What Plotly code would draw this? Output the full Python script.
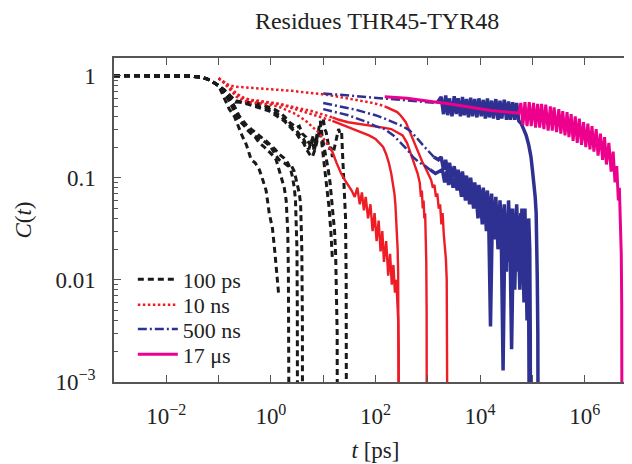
import plotly.graph_objects as go

# ---------------- data (t in ps, C(t)) ----------------
t_100ps_head = [0.001, 0.002, 0.004, 0.008, 0.015, 0.03, 0.05, 0.07, 0.1]
C_100ps_head = [1.0, 1.0, 1.0, 1.0, 1.0, 0.99, 0.96, 0.9, 0.8]

t_100ps_a = t_100ps_head + [0.13, 0.16, 0.2, 0.23, 0.28, 0.34, 0.42, 0.5, 0.6, 0.7, 0.81, 0.93, 1.07, 1.2, 1.3, 1.4]
C_100ps_a = C_100ps_head + [0.6, 0.47, 0.4, 0.33, 0.26, 0.21, 0.15, 0.14, 0.12, 0.095, 0.075, 0.045, 0.032, 0.018, 0.011, 0.0074]

t_100ps_b = t_100ps_head + [0.13, 0.16, 0.2, 0.25, 0.32, 0.39, 0.5, 0.6, 0.75, 0.93, 1.1, 1.26, 1.44, 1.64, 1.8, 1.96, 2.05, 2.1, 2.16, 2.2, 2.25, 2.27]
C_100ps_b = C_100ps_head + [0.68, 0.56, 0.45, 0.36, 0.32, 0.29, 0.25, 0.22, 0.2, 0.18, 0.165, 0.15, 0.12, 0.098, 0.08, 0.06, 0.041, 0.03, 0.012, 0.004, 0.0011, 1e-5]

t_100ps_c = t_100ps_head + [0.13, 0.16, 0.2, 0.25, 0.34, 0.42, 0.53, 0.65, 0.81, 1.0, 1.2, 1.44, 1.8, 2.25, 2.5, 2.8, 3.0, 3.2, 3.35, 3.5, 3.7, 3.8, 3.9, 4.0, 4.05]
C_100ps_c = C_100ps_head + [0.7, 0.6, 0.5, 0.38, 0.3, 0.27, 0.25, 0.235, 0.22, 0.2, 0.17, 0.15, 0.14, 0.127, 0.13, 0.115, 0.1, 0.088, 0.08, 0.07, 0.055, 0.04, 0.02, 0.004, 1e-5]

t_100ps_d = t_100ps_head + [0.13, 0.16, 0.2, 0.25, 0.34, 0.42, 0.53, 0.65, 0.81, 1.0, 1.2, 1.44, 1.8, 2.1, 2.4, 2.6, 2.8, 2.95, 3.05, 3.15, 3.2, 3.25]
C_100ps_d = C_100ps_head + [0.7, 0.6, 0.5, 0.4, 0.33, 0.3, 0.27, 0.25, 0.23, 0.21, 0.19, 0.17, 0.155, 0.14, 0.12, 0.1, 0.08, 0.06, 0.04, 0.02, 0.005, 1e-5]

t_100ps_e = t_100ps_head + [0.13, 0.17, 0.21, 0.27, 0.34, 0.45, 0.6, 0.75, 0.93, 1.15, 1.44, 1.8, 2.25, 2.7, 3.1, 3.5, 4.0, 4.7, 5.3, 5.9, 6.3, 6.7, 7.2, 7.7, 8.4, 9.1, 10, 10.7, 11.4, 12.2, 13, 14, 15, 16.5, 18, 19, 19.7, 21, 22.5, 23.6, 24.7, 25.8, 26.7, 27.5, 28]
C_100ps_e = C_100ps_head + [0.7, 0.6, 0.55, 0.56, 0.55, 0.54, 0.53, 0.51, 0.49, 0.47, 0.44, 0.4, 0.35, 0.33, 0.31, 0.32, 0.27, 0.25, 0.22, 0.2, 0.24, 0.18, 0.22, 0.28, 0.26, 0.35, 0.38, 0.3, 0.28, 0.22, 0.19, 0.2, 0.16, 0.2, 0.25, 0.29, 0.3, 0.27, 0.28, 0.16, 0.1, 0.08, 0.041, 0.01, 1e-5]

t_100ps_f = t_100ps_head + [0.13, 0.17, 0.21, 0.27, 0.34, 0.45, 0.6, 0.75, 0.93, 1.15, 1.44, 1.8, 2.25, 2.7, 3.1, 3.6, 4.2, 4.7, 5.3, 5.9, 6.5, 7.2, 8.0, 8.8, 9.6, 10.5, 11.5, 12.5, 13.5, 14.5, 15.5, 16.5, 17.3, 18, 18.5, 18.8]
C_100ps_f = C_100ps_head + [0.72, 0.62, 0.56, 0.55, 0.54, 0.52, 0.5, 0.49, 0.47, 0.44, 0.41, 0.37, 0.33, 0.3, 0.29, 0.26, 0.24, 0.21, 0.19, 0.22, 0.26, 0.21, 0.29, 0.36, 0.25, 0.2, 0.15, 0.12, 0.09, 0.06, 0.045, 0.03, 0.018, 0.008, 0.003, 1e-5]

t_100ps_g = t_100ps_head + [0.13, 0.17, 0.21, 0.27, 0.34, 0.45, 0.6, 0.75, 0.93, 1.15, 1.44, 1.8, 2.25, 2.7, 3.1, 3.6, 4.2, 4.8, 5.5, 6.2, 7.0, 7.8, 8.6, 9.4, 10.2, 11, 12, 13, 14, 15]
C_100ps_g = C_100ps_head + [0.72, 0.63, 0.57, 0.55, 0.53, 0.51, 0.49, 0.47, 0.45, 0.42, 0.39, 0.36, 0.32, 0.29, 0.27, 0.24, 0.22, 0.19, 0.17, 0.16, 0.19, 0.24, 0.3, 0.22, 0.15, 0.11, 0.08, 0.05, 0.03, 0.016]

t_10ns_a = [0.1, 0.12, 0.15, 0.2, 0.3, 0.45, 0.7, 1, 1.5, 2.5, 4, 6, 9, 14, 20, 30, 45, 65, 90, 120, 150, 180, 220, 260, 300, 340, 380, 420, 470, 520, 570, 620, 680, 740, 800, 870, 940, 1000, 1080, 1160, 1250, 1340, 1430, 1520, 1620, 1720, 1820, 1920, 2020, 2120, 2220, 2300, 2360, 2400, 2430]
C_10ns_a = [0.95, 0.88, 0.82, 0.78, 0.77, 0.76, 0.75, 0.74, 0.72, 0.71, 0.69, 0.68, 0.66, 0.64, 0.62, 0.6, 0.58, 0.56, 0.54, 0.52, 0.5, 0.48, 0.46, 0.44, 0.41, 0.38, 0.35, 0.31, 0.27, 0.24, 0.21, 0.19, 0.17, 0.15, 0.14, 0.13, 0.12, 0.11, 0.1, 0.095, 0.08, 0.085, 0.065, 0.07, 0.05, 0.055, 0.035, 0.045, 0.028, 0.022, 0.016, 0.01, 0.005, 0.0015, 1e-5]

t_10ns_b = [0.1, 0.13, 0.17, 0.22, 0.3, 0.4, 0.55, 0.75, 1, 1.5, 2, 3, 4, 6, 8, 11, 15, 20, 30, 45, 65, 100, 140, 200, 260, 330, 400, 460, 520, 580, 640, 700, 740, 770, 800, 830, 860, 890, 915, 935, 950, 958, 962]
C_10ns_b = [0.94, 0.86, 0.76, 0.67, 0.61, 0.58, 0.57, 0.56, 0.55, 0.53, 0.51, 0.49, 0.47, 0.45, 0.43, 0.41, 0.39, 0.37, 0.35, 0.34, 0.33, 0.32, 0.31, 0.3, 0.28, 0.26, 0.22, 0.18, 0.15, 0.13, 0.11, 0.09, 0.065, 0.075, 0.05, 0.06, 0.04, 0.045, 0.03, 0.015, 0.005, 0.0015, 1e-5]

t_10ns_c = [0.1, 0.13, 0.17, 0.22, 0.3, 0.4, 0.55, 0.75, 1, 1.5, 2, 3, 4, 5, 6, 7.5, 9, 11, 13, 15, 18, 22, 26, 30, 35, 40, 45, 50, 55, 60, 65, 72, 80, 88, 96, 105, 115, 125, 135, 145, 160, 175, 190, 205, 220, 235, 250, 262, 272, 278, 282]
C_10ns_c = [0.94, 0.84, 0.72, 0.62, 0.57, 0.55, 0.54, 0.53, 0.52, 0.49, 0.46, 0.42, 0.38, 0.35, 0.32, 0.29, 0.26, 0.23, 0.2, 0.18, 0.14, 0.11, 0.095, 0.085, 0.075, 0.065, 0.08, 0.055, 0.072, 0.048, 0.065, 0.04, 0.055, 0.03, 0.045, 0.024, 0.038, 0.019, 0.03, 0.015, 0.024, 0.011, 0.018, 0.009, 0.014, 0.0075, 0.01, 0.006, 0.004, 0.002, 1e-5]

t_10ns_d = [0.1, 0.13, 0.17, 0.22, 0.3, 0.4, 0.55, 0.75, 1, 1.5, 2, 3, 4, 6, 8, 11, 15, 20, 28, 40, 55, 75, 100, 120, 140, 160, 180, 200, 215, 230, 240, 250, 258, 265, 271, 276, 280, 283]
C_10ns_d = [0.94, 0.85, 0.74, 0.65, 0.6, 0.57, 0.56, 0.55, 0.54, 0.52, 0.5, 0.47, 0.45, 0.42, 0.4, 0.38, 0.36, 0.34, 0.32, 0.3, 0.28, 0.26, 0.24, 0.22, 0.2, 0.17, 0.14, 0.11, 0.09, 0.07, 0.055, 0.04, 0.03, 0.02, 0.012, 0.006, 0.002, 1e-5]

t_500ns_a = [10, 14, 20, 30, 45, 70, 100, 150, 220, 330, 500, 750, 1100, 1500,
             1.8e3, 2.0e3, 2.2e3, 2.4e3, 2.6e3, 2.9e3, 3.2e3, 3.5e3, 3.8e3, 4.2e3, 4.6e3, 5.0e3, 5.5e3, 6.0e3, 6.6e3, 7.2e3, 7.9e3, 8.7e3, 9.5e3,
             1.05e4, 1.15e4, 1.26e4, 1.38e4, 1.5e4, 1.66e4, 1.8e4, 2.0e4, 2.2e4, 2.4e4, 2.6e4, 2.9e4, 3.2e4, 3.5e4, 3.8e4, 4.2e4, 4.6e4, 5.0e4, 5.5e4,
             6.1e4, 6.8e4, 7.6e4, 8.5e4, 9.4e4, 1.0e5, 1.07e5, 1.13e5, 1.18e5, 1.21e5, 1.24e5, 1.27e5, 1.29e5, 1.31e5]
C_500ns_a = [0.67, 0.66, 0.65, 0.64, 0.63, 0.62, 0.61, 0.6, 0.59, 0.58, 0.57, 0.56, 0.55, 0.54,
             0.62, 0.42, 0.64, 0.41, 0.6, 0.4, 0.63, 0.42, 0.6, 0.4, 0.62, 0.41, 0.59, 0.39, 0.61, 0.4, 0.59, 0.39, 0.6,
             0.4, 0.58, 0.38, 0.6, 0.39, 0.57, 0.38, 0.59, 0.37, 0.57, 0.38, 0.58, 0.37, 0.56, 0.37, 0.55, 0.37, 0.54, 0.36,
             0.34, 0.3, 0.26, 0.21, 0.16, 0.12, 0.09, 0.065, 0.045, 0.025, 0.01, 0.003, 0.0012, 1e-5]

t_500ns_b = [10, 14, 20, 30, 45, 70, 100, 150, 220, 330, 450, 600, 800, 1050, 1300, 1600,
             1.8e3, 2.0e3, 2.2e3, 2.4e3, 2.6e3, 2.9e3, 3.2e3, 3.5e3, 3.8e3, 4.2e3, 4.6e3, 5.0e3, 5.5e3, 6.0e3, 6.6e3, 7.2e3, 7.9e3, 8.7e3, 9.5e3,
             1.05e4, 1.15e4, 1.26e4, 1.38e4, 1.5e4, 1.66e4, 1.8e4, 2.0e4, 2.2e4, 2.4e4, 2.6e4, 2.9e4, 3.2e4, 3.5e4, 3.8e4, 4.2e4, 4.6e4, 5.0e4, 5.5e4,
             6.0e4, 6.6e4, 7.2e4, 7.9e4, 8.5e4, 8.9e4, 9.1e4, 9.3e4]
C_500ns_b = [0.54, 0.52, 0.5, 0.48, 0.46, 0.43, 0.41, 0.38, 0.35, 0.32, 0.29, 0.25, 0.21, 0.18, 0.16, 0.15,
             0.16, 0.12, 0.15, 0.11, 0.14, 0.1, 0.13, 0.095, 0.12, 0.085, 0.115, 0.08, 0.105, 0.075, 0.1, 0.065, 0.09, 0.06, 0.085,
             0.05, 0.08, 0.045, 0.075, 0.035, 0.07, 0.03, 0.065, 0.02, 0.06, 0.025, 0.055, 0.012, 0.06, 0.02, 0.05, 0.008, 0.055, 0.015,
             0.045, 0.01, 0.05, 0.004, 0.04, 0.02, 0.003, 1e-5]

t_500ns_c = [10, 14, 20, 30, 45, 70, 100, 150, 220, 300, 400, 520, 700, 900, 1100, 1400,
             1.9e3, 2.1e3, 2.3e3, 2.5e3, 2.75e3, 3.05e3, 3.35e3, 3.65e3, 4.0e3, 4.4e3, 4.8e3, 5.25e3, 5.75e3, 6.3e3, 6.9e3, 7.5e3, 8.3e3, 9.1e3,
             1.0e4, 1.1e4, 1.2e4, 1.32e4, 1.44e4, 1.58e4, 1.73e4, 1.9e4, 2.1e4, 2.3e4, 2.5e4, 2.75e4, 3.0e4, 3.35e4, 3.65e4, 4.0e4, 4.4e4, 4.8e4,
             5.25e4, 5.75e4, 6.3e4, 6.9e4, 7.5e4, 8.0e4, 8.5e4, 8.8e4, 9.0e4]
C_500ns_c = [0.47, 0.45, 0.43, 0.41, 0.38, 0.35, 0.32, 0.3, 0.26, 0.22, 0.19, 0.16, 0.14, 0.13, 0.12, 0.11,
             0.12, 0.09, 0.115, 0.085, 0.11, 0.08, 0.1, 0.075, 0.095, 0.065, 0.09, 0.06, 0.085, 0.055, 0.08, 0.05, 0.075, 0.04,
             0.07, 0.035, 0.065, 0.03, 0.06, 0.0035, 0.055, 0.025, 0.05, 0.02, 0.048, 0.0013, 0.045, 0.015, 0.05, 0.0021, 0.045, 0.012,
             0.04, 0.008, 0.05, 0.006, 0.035, 0.02, 0.005, 0.0012, 1e-5]

t_17us = [150, 250, 400, 650, 1000, 1600, 2500, 4000, 6500, 1.0e4, 1.6e4, 2.5e4, 4.0e4, 5.5e4,
          6.0e4, 6.6e4, 7.2e4, 7.9e4, 8.7e4, 9.5e4, 1.05e5, 1.15e5, 1.26e5, 1.38e5, 1.5e5, 1.66e5, 1.8e5, 2.0e5, 2.2e5, 2.4e5, 2.6e5, 2.9e5,
          3.2e5, 3.5e5, 3.8e5, 4.2e5, 4.6e5, 5.0e5, 5.5e5, 6.0e5, 6.6e5, 7.2e5, 7.9e5, 8.7e5, 9.5e5, 1.05e6, 1.15e6, 1.26e6, 1.38e6, 1.5e6,
          1.66e6, 1.8e6, 2.0e6, 2.2e6, 2.4e6, 2.6e6, 2.9e6, 3.2e6, 3.5e6, 3.8e6, 4.1e6, 4.4e6, 4.6e6, 4.8e6, 4.9e6, 5.0e6, 5.1e6, 5.15e6, 5.2e6]
C_17us = [0.62, 0.61, 0.6, 0.58, 0.56, 0.545, 0.53, 0.51, 0.49, 0.47, 0.455, 0.445, 0.435, 0.43,
          0.54, 0.33, 0.55, 0.32, 0.55, 0.32, 0.54, 0.31, 0.53, 0.31, 0.53, 0.3, 0.52, 0.29, 0.5, 0.29, 0.49, 0.28,
          0.47, 0.27, 0.45, 0.26, 0.44, 0.25, 0.42, 0.23, 0.4, 0.22, 0.38, 0.21, 0.35, 0.2, 0.34, 0.19, 0.32, 0.18,
          0.3, 0.165, 0.27, 0.15, 0.25, 0.135, 0.22, 0.115, 0.18, 0.09, 0.13, 0.06, 0.08, 0.04, 0.04, 0.018, 0.006, 0.002, 1e-5]

series_names = ["100 ps", "10 ns", "500 ns", "17 \u03bcs"]
x_tick_labels = ["", "10<sup>\u22122</sup>", "", "10<sup>0</sup>", "", "10<sup>2</sup>", "", "10<sup>4</sup>", "", "10<sup>6</sup>"]
y_tick_labels = ["10<sup>\u22123</sup>", "0.01", "0.1", "1"]

# ---------------- styles ----------------
BLACK = "#1a1a1a"
RED = "#ee1c25"
BLUE = "#2e3192"
MAGENTA = "#ec008c"
FONT = "Liberation Serif, DejaVu Serif, serif"
TXT = "#222222"
LEGENDS = ["legend", "legend2", "legend3", "legend4"]

fig = go.Figure()


def add(t, c, color, width, dash, k, legend):
    fig.add_trace(go.Scatter(x=t, y=c, mode="lines", line=dict(color=color, width=width, dash=dash),
                             legendgroup="g%d" % k, legend=LEGENDS[k], showlegend=legend,
                             name=series_names[k], hoverinfo="skip"))


def add_split(t, c, tcut, color, width, dash, width2, k, legend):
    i = next(j for j, v in enumerate(t) if v >= tcut)
    add(t[:i + 1], c[:i + 1], color, width, dash, k, legend)
    add(t[i:], c[i:], color, width2, "solid", k, False)


black_curves = [(t_100ps_a, C_100ps_a), (t_100ps_b, C_100ps_b), (t_100ps_c, C_100ps_c), (t_100ps_d, C_100ps_d),
                (t_100ps_e, C_100ps_e), (t_100ps_f, C_100ps_f), (t_100ps_g, C_100ps_g)]
for j, (t, c) in enumerate(black_curves):
    add(t, c, BLACK, 3, "6px,4px", 0, j == 0)

red_curves = [(t_10ns_a, C_10ns_a, 150), (t_10ns_b, C_10ns_b, 12), (t_10ns_c, C_10ns_c, 12), (t_10ns_d, C_10ns_d, 12)]
for j, (t, c, cut) in enumerate(red_curves):
    add_split(t, c, cut, RED, 2.5, "2.5px,2.5px", 2.4, 1, j == 0)

blue_curves = [(t_500ns_a, C_500ns_a, 1500), (t_500ns_b, C_500ns_b, 1300), (t_500ns_c, C_500ns_c, 1100)]
for j, (t, c, cut) in enumerate(blue_curves):
    add_split(t, c, cut, BLUE, 2.5, "9px,3px,2px,3px", 3.5, 2, j == 0)

add(t_17us, C_17us, MAGENTA, 3, "solid", 3, True)

minor_y = [m * 10 ** e for e in range(-3, 1) for m in range(2, 10)]


def legend_box(ytop):
    return dict(x=0.036, y=ytop, xanchor="left", yanchor="top", bgcolor="rgba(0,0,0,0)",
                font=dict(family=FONT, size=22, color=TXT), itemwidth=40, tracegroupgap=0)


# the page body adds an 8 px offset; margins compensate so the frame lands where the reference has it
fig.update_layout(
    width=632, height=464,
    margin=dict(l=106, r=3, t=50, b=90),
    paper_bgcolor="white", plot_bgcolor="white",
    font=dict(family=FONT, size=23, color=TXT),
    title=dict(text="Residues THR45-TYR48", x=0.503, xref="paper", xanchor="center", y=0.99, yanchor="top",
               font=dict(family=FONT, size=24, color=TXT)),
    showlegend=True,
    legend=legend_box(0.381),
    legend2=legend_box(0.303),
    legend3=legend_box(0.228),
    legend4=legend_box(0.150),
    xaxis=dict(type="log", range=[-3, 7], showgrid=False, zeroline=False, automargin=False,
               showline=True, linecolor="#555", linewidth=1.5, mirror="ticks",
               ticks="inside", ticklen=7, tickcolor="#555", tickwidth=1.2, ticklabelstandoff=13,
               tickmode="array", tickvals=[10 ** e for e in range(-3, 7)], ticktext=x_tick_labels,
               tickfont=dict(family=FONT, size=23, color=TXT),
               title=dict(text="<i>t</i> [ps]", standoff=14, font=dict(family=FONT, size=23, color=TXT))),
    yaxis=dict(type="log", range=[-3, 0.173], showgrid=False, zeroline=False, automargin=False,
               showline=True, linecolor="#555", linewidth=1.5, mirror="ticks",
               ticks="inside", ticklen=7, tickcolor="#555", tickwidth=1.2, ticklabelstandoff=12,
               tickmode="array", tickvals=[0.001, 0.01, 0.1, 1], ticktext=y_tick_labels,
               tickfont=dict(family=FONT, size=23, color=TXT),
               minor=dict(ticks="inside", ticklen=4, tickcolor="#555", tickmode="array", tickvals=minor_y, showgrid=False),
               title=dict(text="<i>C</i>(<i>t</i>)", standoff=17, font=dict(family=FONT, size=23, color=TXT))),
)

fig.write_html("out.html")
